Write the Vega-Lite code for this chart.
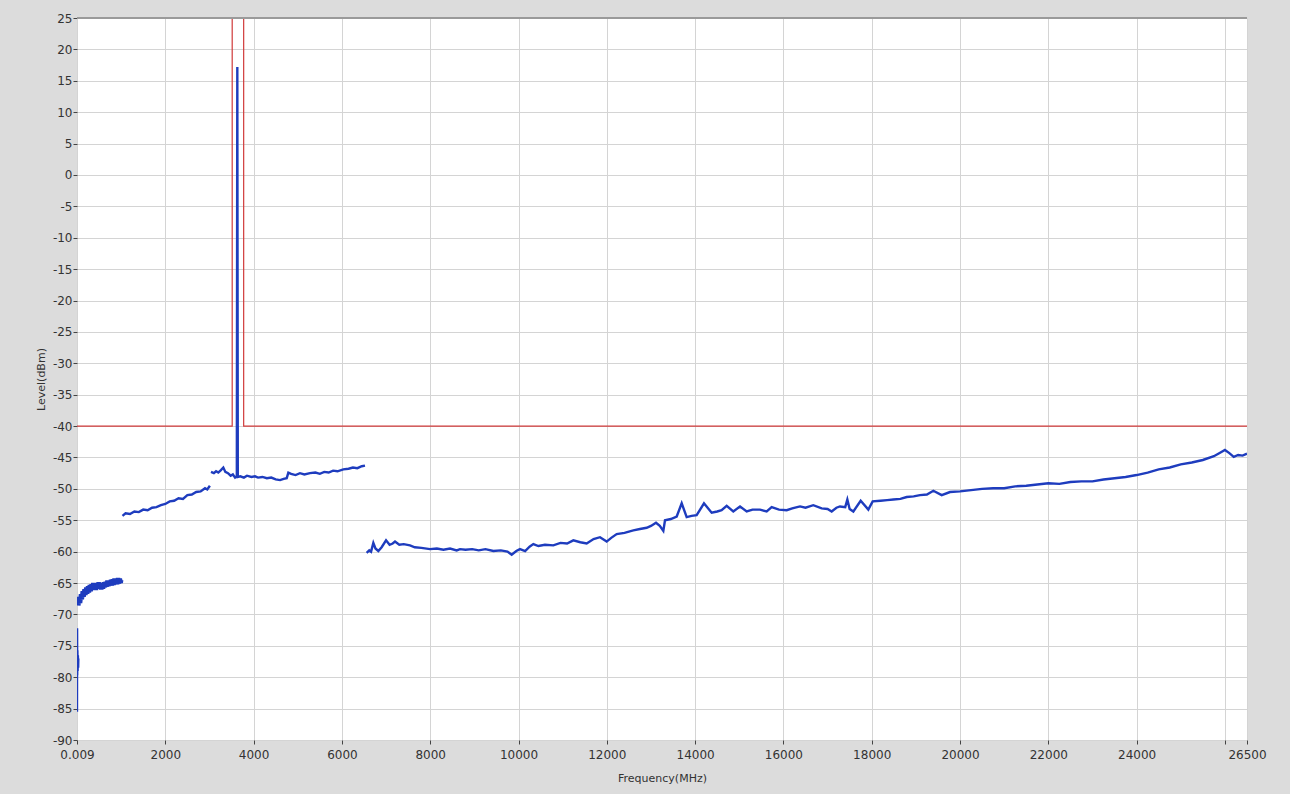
{
  "$schema": "https://vega.github.io/schema/vega-lite/v6.json",
  "width": 1170,
  "height": 722,
  "autosize": {"type": "none"},
  "padding": {"left": 77, "top": 18, "right": 43, "bottom": 54},
  "background": "#dcdcdc",
  "config": {
    "view": {"fill": "#ffffff", "stroke": null},
    "font": "DejaVu Sans",
    "axis": {
      "labelFont": "DejaVu Sans",
      "titleFont": "DejaVu Sans",
      "labelFontSize": 12,
      "titleFontSize": 11,
      "labelColor": "#333333",
      "titleColor": "#333333",
      "titleFontWeight": "normal",
      "gridColor": "#d4d4d4",
      "gridWidth": 1,
      "tickColor": "#444444",
      "tickSize": 4,
      "domain": false,
      "labelFlush": false,
      "labelOverlap": false
    }
  },
  "datasets": {
    "trace": [
      {"f": 0.009, "L": -85.5, "s": 0}, {"f": 2, "L": -72.2, "s": 0}, {"f": 5, "L": -79.7, "s": 0}, {"f": 9, "L": -75.7, "s": 0}, {"f": 14, "L": -79.0, "s": 0}, {"f": 20, "L": -76.5, "s": 0}, {"f": 26, "L": -78.5, "s": 0}, {"f": 30, "L": -77.0, "s": 0},
      {"f": 30, "L": -68.6, "s": 1}, {"f": 50, "L": -67.2, "s": 1}, {"f": 70, "L": -68.2, "s": 1}, {"f": 90, "L": -66.8, "s": 1}, {"f": 110, "L": -67.6, "s": 1}, {"f": 130, "L": -66.3, "s": 1}, {"f": 150, "L": -67.2, "s": 1}, {"f": 170, "L": -66.0, "s": 1}, {"f": 190, "L": -66.9, "s": 1}, {"f": 210, "L": -65.7, "s": 1}, {"f": 230, "L": -66.7, "s": 1}, {"f": 250, "L": -65.5, "s": 1}, {"f": 270, "L": -66.5, "s": 1}, {"f": 290, "L": -65.3, "s": 1}, {"f": 310, "L": -66.3, "s": 1}, {"f": 330, "L": -65.2, "s": 1}, {"f": 350, "L": -66.1, "s": 1}, {"f": 370, "L": -65.0, "s": 1}, {"f": 390, "L": -66.0, "s": 1}, {"f": 410, "L": -65.1, "s": 1}, {"f": 430, "L": -66.1, "s": 1}, {"f": 450, "L": -65.0, "s": 1}, {"f": 470, "L": -65.9, "s": 1}, {"f": 490, "L": -64.9, "s": 1}, {"f": 510, "L": -65.8, "s": 1}, {"f": 530, "L": -65.0, "s": 1}, {"f": 550, "L": -66.0, "s": 1}, {"f": 570, "L": -65.1, "s": 1}, {"f": 590, "L": -65.9, "s": 1}, {"f": 610, "L": -64.9, "s": 1}, {"f": 630, "L": -65.7, "s": 1}, {"f": 650, "L": -64.8, "s": 1}, {"f": 670, "L": -65.6, "s": 1}, {"f": 690, "L": -64.6, "s": 1}, {"f": 710, "L": -65.5, "s": 1}, {"f": 730, "L": -64.6, "s": 1}, {"f": 750, "L": -65.4, "s": 1}, {"f": 770, "L": -64.5, "s": 1}, {"f": 790, "L": -65.4, "s": 1}, {"f": 810, "L": -64.4, "s": 1}, {"f": 830, "L": -65.3, "s": 1}, {"f": 850, "L": -64.3, "s": 1}, {"f": 870, "L": -65.2, "s": 1}, {"f": 890, "L": -64.3, "s": 1}, {"f": 910, "L": -65.2, "s": 1}, {"f": 930, "L": -64.2, "s": 1}, {"f": 950, "L": -65.1, "s": 1}, {"f": 970, "L": -64.3, "s": 1}, {"f": 990, "L": -65.0, "s": 1}, {"f": 1000, "L": -64.5, "s": 1},
      {"f": 1030, "L": -54.3, "s": 2}, {"f": 1100, "L": -53.9, "s": 2}, {"f": 1200, "L": -54.0, "s": 2}, {"f": 1300, "L": -53.6, "s": 2}, {"f": 1400, "L": -53.7, "s": 2}, {"f": 1500, "L": -53.3, "s": 2}, {"f": 1600, "L": -53.4, "s": 2}, {"f": 1700, "L": -53.0, "s": 2}, {"f": 1800, "L": -52.9, "s": 2}, {"f": 1900, "L": -52.6, "s": 2}, {"f": 2000, "L": -52.4, "s": 2}, {"f": 2100, "L": -52.0, "s": 2}, {"f": 2200, "L": -51.9, "s": 2}, {"f": 2300, "L": -51.5, "s": 2}, {"f": 2400, "L": -51.6, "s": 2}, {"f": 2500, "L": -51.0, "s": 2}, {"f": 2600, "L": -50.9, "s": 2}, {"f": 2700, "L": -50.5, "s": 2}, {"f": 2800, "L": -50.4, "s": 2}, {"f": 2900, "L": -49.9, "s": 2}, {"f": 2950, "L": -50.1, "s": 2}, {"f": 3010, "L": -49.5, "s": 2},
      {"f": 3035, "L": -47.3, "s": 3}, {"f": 3100, "L": -47.5, "s": 3}, {"f": 3150, "L": -47.2, "s": 3}, {"f": 3200, "L": -47.4, "s": 3}, {"f": 3260, "L": -47.0, "s": 3}, {"f": 3314, "L": -46.6, "s": 3}, {"f": 3360, "L": -47.3, "s": 3}, {"f": 3420, "L": -47.5, "s": 3}, {"f": 3480, "L": -47.9, "s": 3}, {"f": 3530, "L": -47.7, "s": 3}, {"f": 3580, "L": -48.2, "s": 3}, {"f": 3620, "L": -48.0, "s": 3}, {"f": 3631, "L": 17.2, "s": 3}, {"f": 3642, "L": -48.1, "s": 3}, {"f": 3700, "L": -48.0, "s": 3}, {"f": 3780, "L": -48.2, "s": 3}, {"f": 3850, "L": -47.9, "s": 3}, {"f": 3950, "L": -48.1, "s": 3}, {"f": 4032, "L": -48.0, "s": 3}, {"f": 4100, "L": -48.2, "s": 3}, {"f": 4200, "L": -48.1, "s": 3}, {"f": 4300, "L": -48.3, "s": 3}, {"f": 4400, "L": -48.2, "s": 3}, {"f": 4500, "L": -48.5, "s": 3}, {"f": 4600, "L": -48.6, "s": 3}, {"f": 4680, "L": -48.4, "s": 3}, {"f": 4750, "L": -48.3, "s": 3}, {"f": 4787, "L": -47.4, "s": 3}, {"f": 4850, "L": -47.6, "s": 3}, {"f": 4950, "L": -47.8, "s": 3}, {"f": 5050, "L": -47.5, "s": 3}, {"f": 5150, "L": -47.7, "s": 3}, {"f": 5277, "L": -47.5, "s": 3}, {"f": 5400, "L": -47.4, "s": 3}, {"f": 5500, "L": -47.6, "s": 3}, {"f": 5600, "L": -47.3, "s": 3}, {"f": 5700, "L": -47.4, "s": 3}, {"f": 5800, "L": -47.1, "s": 3}, {"f": 5900, "L": -47.2, "s": 3}, {"f": 6032, "L": -46.9, "s": 3}, {"f": 6150, "L": -46.8, "s": 3}, {"f": 6250, "L": -46.6, "s": 3}, {"f": 6350, "L": -46.7, "s": 3}, {"f": 6450, "L": -46.4, "s": 3}, {"f": 6523, "L": -46.3, "s": 3},
      {"f": 6560, "L": -60.2, "s": 4}, {"f": 6620, "L": -59.8, "s": 4}, {"f": 6660, "L": -60.0, "s": 4}, {"f": 6712, "L": -58.6, "s": 4}, {"f": 6760, "L": -59.5, "s": 4}, {"f": 6825, "L": -59.9, "s": 4}, {"f": 6900, "L": -59.3, "s": 4}, {"f": 7000, "L": -58.2, "s": 4}, {"f": 7080, "L": -58.9, "s": 4}, {"f": 7150, "L": -58.7, "s": 4}, {"f": 7203, "L": -58.4, "s": 4}, {"f": 7300, "L": -58.9, "s": 4}, {"f": 7400, "L": -58.8, "s": 4}, {"f": 7542, "L": -59.0, "s": 4}, {"f": 7650, "L": -59.3, "s": 4}, {"f": 7800, "L": -59.4, "s": 4}, {"f": 7995, "L": -59.6, "s": 4}, {"f": 8150, "L": -59.5, "s": 4}, {"f": 8300, "L": -59.7, "s": 4}, {"f": 8450, "L": -59.5, "s": 4}, {"f": 8600, "L": -59.8, "s": 4}, {"f": 8675, "L": -59.6, "s": 4}, {"f": 8800, "L": -59.7, "s": 4}, {"f": 8950, "L": -59.6, "s": 4}, {"f": 9100, "L": -59.8, "s": 4}, {"f": 9250, "L": -59.6, "s": 4}, {"f": 9430, "L": -59.9, "s": 4}, {"f": 9600, "L": -59.8, "s": 4}, {"f": 9750, "L": -60.0, "s": 4}, {"f": 9845, "L": -60.5, "s": 4}, {"f": 9950, "L": -59.9, "s": 4}, {"f": 10034, "L": -59.6, "s": 4}, {"f": 10150, "L": -59.9, "s": 4}, {"f": 10250, "L": -59.2, "s": 4}, {"f": 10336, "L": -58.8, "s": 4}, {"f": 10450, "L": -59.1, "s": 4}, {"f": 10600, "L": -58.9, "s": 4}, {"f": 10789, "L": -59.0, "s": 4}, {"f": 10950, "L": -58.6, "s": 4}, {"f": 11100, "L": -58.7, "s": 4}, {"f": 11242, "L": -58.2, "s": 4}, {"f": 11400, "L": -58.5, "s": 4}, {"f": 11544, "L": -58.7, "s": 4}, {"f": 11700, "L": -58.0, "s": 4}, {"f": 11846, "L": -57.7, "s": 4}, {"f": 11997, "L": -58.4, "s": 4}, {"f": 12100, "L": -57.8, "s": 4}, {"f": 12224, "L": -57.2, "s": 4}, {"f": 12400, "L": -57.0, "s": 4}, {"f": 12601, "L": -56.6, "s": 4}, {"f": 12750, "L": -56.4, "s": 4}, {"f": 12903, "L": -56.2, "s": 4}, {"f": 13000, "L": -55.9, "s": 4}, {"f": 13114, "L": -55.4, "s": 4}, {"f": 13200, "L": -55.9, "s": 4}, {"f": 13280, "L": -56.7, "s": 4}, {"f": 13318, "L": -55.0, "s": 4}, {"f": 13450, "L": -54.8, "s": 4}, {"f": 13583, "L": -54.4, "s": 4}, {"f": 13696, "L": -52.3, "s": 4}, {"f": 13809, "L": -54.5, "s": 4}, {"f": 13920, "L": -54.3, "s": 4}, {"f": 14035, "L": -54.2, "s": 4}, {"f": 14201, "L": -52.3, "s": 4}, {"f": 14375, "L": -53.8, "s": 4}, {"f": 14500, "L": -53.6, "s": 4}, {"f": 14600, "L": -53.4, "s": 4}, {"f": 14715, "L": -52.7, "s": 4}, {"f": 14865, "L": -53.6, "s": 4}, {"f": 15017, "L": -52.8, "s": 4}, {"f": 15168, "L": -53.6, "s": 4}, {"f": 15300, "L": -53.3, "s": 4}, {"f": 15470, "L": -53.3, "s": 4}, {"f": 15621, "L": -53.6, "s": 4}, {"f": 15734, "L": -52.9, "s": 4}, {"f": 15900, "L": -53.3, "s": 4}, {"f": 16074, "L": -53.4, "s": 4}, {"f": 16200, "L": -53.1, "s": 4}, {"f": 16376, "L": -52.8, "s": 4}, {"f": 16500, "L": -53.0, "s": 4}, {"f": 16677, "L": -52.6, "s": 4}, {"f": 16866, "L": -53.1, "s": 4}, {"f": 17000, "L": -53.2, "s": 4}, {"f": 17093, "L": -53.6, "s": 4}, {"f": 17200, "L": -53.0, "s": 4}, {"f": 17282, "L": -52.8, "s": 4}, {"f": 17400, "L": -52.9, "s": 4}, {"f": 17448, "L": -51.7, "s": 4}, {"f": 17500, "L": -53.2, "s": 4}, {"f": 17584, "L": -53.6, "s": 4}, {"f": 17750, "L": -51.9, "s": 4}, {"f": 17923, "L": -53.3, "s": 4}, {"f": 18022, "L": -52.0, "s": 4}, {"f": 18200, "L": -51.9, "s": 4}, {"f": 18350, "L": -51.8, "s": 4}, {"f": 18489, "L": -51.7, "s": 4}, {"f": 18650, "L": -51.6, "s": 4}, {"f": 18792, "L": -51.3, "s": 4}, {"f": 18950, "L": -51.2, "s": 4}, {"f": 19094, "L": -51.0, "s": 4}, {"f": 19250, "L": -50.9, "s": 4}, {"f": 19396, "L": -50.3, "s": 4}, {"f": 19585, "L": -51.0, "s": 4}, {"f": 19773, "L": -50.5, "s": 4}, {"f": 20000, "L": -50.4, "s": 4}, {"f": 20250, "L": -50.2, "s": 4}, {"f": 20500, "L": -50.0, "s": 4}, {"f": 20750, "L": -49.9, "s": 4}, {"f": 21000, "L": -49.9, "s": 4}, {"f": 21250, "L": -49.6, "s": 4}, {"f": 21500, "L": -49.5, "s": 4}, {"f": 21750, "L": -49.3, "s": 4}, {"f": 22000, "L": -49.1, "s": 4}, {"f": 22250, "L": -49.2, "s": 4}, {"f": 22500, "L": -48.9, "s": 4}, {"f": 22750, "L": -48.8, "s": 4}, {"f": 23000, "L": -48.8, "s": 4}, {"f": 23250, "L": -48.5, "s": 4}, {"f": 23500, "L": -48.3, "s": 4}, {"f": 23750, "L": -48.1, "s": 4}, {"f": 24000, "L": -47.8, "s": 4}, {"f": 24250, "L": -47.4, "s": 4}, {"f": 24500, "L": -46.9, "s": 4}, {"f": 24750, "L": -46.6, "s": 4}, {"f": 25000, "L": -46.1, "s": 4}, {"f": 25250, "L": -45.8, "s": 4}, {"f": 25500, "L": -45.4, "s": 4}, {"f": 25750, "L": -44.8, "s": 4}, {"f": 25900, "L": -44.2, "s": 4}, {"f": 26000, "L": -43.8, "s": 4}, {"f": 26100, "L": -44.3, "s": 4}, {"f": 26200, "L": -44.9, "s": 4}, {"f": 26300, "L": -44.6, "s": 4}, {"f": 26400, "L": -44.7, "s": 4}, {"f": 26500, "L": -44.4, "s": 4}
    ],
    "limit": [
      {"f": 0.009, "L": -40, "o": 1}, {"f": 3515, "L": -40, "o": 2}, {"f": 3515, "L": 40, "o": 3}, {"f": 3775, "L": 40, "o": 4}, {"f": 3775, "L": -40, "o": 5}, {"f": 26500, "L": -40, "o": 6}
    ],
    "top": [
      {"f": 0.009, "L": 25}, {"f": 26500, "L": 25}
    ]
  },
  "encoding": {
    "x": {
      "field": "f", "type": "quantitative",
      "scale": {"domain": [0.009, 26500], "nice": false, "zero": false},
      "axis": {
        "title": "Frequency(MHz)",
        "titlePadding": 12,
        "values": [0.009, 2000, 4000, 6000, 8000, 10000, 12000, 14000, 16000, 18000, 20000, 22000, 24000, 26000, 26500],
        "labelExpr": "datum.value < 1 ? '0.009' : (datum.value == 26000 ? '' : '' + datum.value)",
        "labelPadding": 5
      }
    },
    "y": {
      "field": "L", "type": "quantitative",
      "scale": {"domain": [-90, 25], "nice": false, "zero": false},
      "axis": {
        "title": "Level(dBm)",
        "titlePadding": 6,
        "values": [-90, -85, -80, -75, -70, -65, -60, -55, -50, -45, -40, -35, -30, -25, -20, -15, -10, -5, 0, 5, 10, 15, 20, 25],
        "labelExpr": "datum.value < 0 ? '-' + abs(datum.value) : '' + datum.value",
        "labelPadding": 1
      }
    }
  },
  "layer": [
    {
      "data": {"name": "limit"},
      "mark": {"type": "line", "color": "#d03a3a", "strokeWidth": 1.2, "clip": true},
      "encoding": {
        "order": {"field": "o", "type": "quantitative"}
      }
    },
    {
      "data": {"name": "trace"},
      "transform": [{"filter": "datum.s != 1"}],
      "mark": {"type": "line", "color": "#1e3cbe", "strokeWidth": 2.4, "clip": true},
      "encoding": {
        "detail": {"field": "s", "type": "nominal"}
      }
    },
    {
      "data": {"name": "trace"},
      "transform": [{"filter": "datum.s == 1"}],
      "mark": {"type": "line", "color": "#1e3cbe", "strokeWidth": 4.5, "clip": true},
      "encoding": {}
    },
    {
      "data": {"name": "top"},
      "mark": {"type": "line", "color": "#9a9a9a", "strokeWidth": 2},
      "encoding": {}
    }
  ]
}
